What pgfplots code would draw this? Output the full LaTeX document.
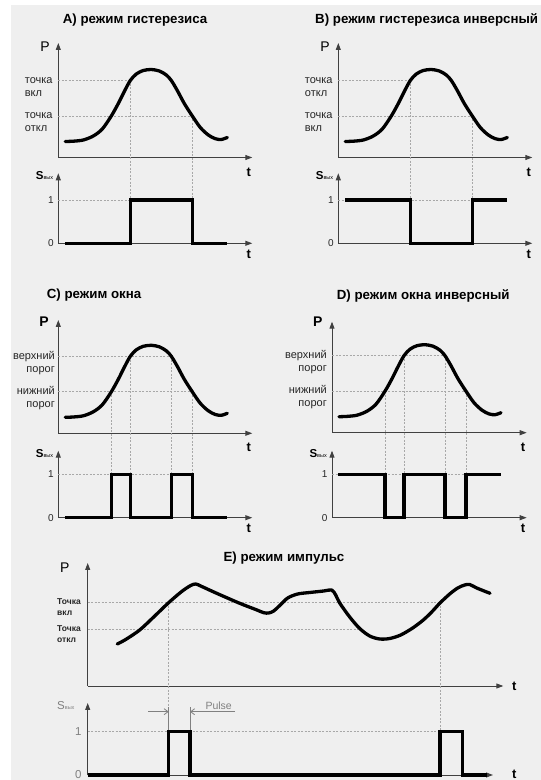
\documentclass[border=0pt]{standalone}
\usepackage{pgfplots}
\pgfplotsset{compat=1.18}
\usetikzlibrary{arrows.meta}
\usepackage{fontspec}
\setmainfont{Liberation Sans}

\definecolor{bg}{HTML}{EFEFEF}
\definecolor{axc}{HTML}{404040}
\definecolor{grd}{HTML}{A8A8A8}
\definecolor{txt}{HTML}{262626}
\definecolor{dim}{HTML}{808080}

\newcommand{\lbl}[2]{\begin{tabular}[t]{@{}l@{}}#1\\#2\end{tabular}}
\newcommand{\lbr}[2]{\begin{tabular}[t]{@{}r@{}}#1\\#2\end{tabular}}
\newcommand{\Sout}{{\fontsize{11.5}{12}\selectfont\bfseries S}{\fontsize{5.5}{6}\selectfont вых}}
\newcommand{\ttl}{\fontsize{13.3}{14}\selectfont\bfseries}

% bell-shaped P(t), same in panels A-D (local px)
\pgfplotstableread{
t P
7 16
15 16.3
25 17.5
35 21.5
44 28.5
53 41.5
60 54
66 66
72 77
78 83.5
85 87
93 88
101 86.5
108 82.5
113 77
119 67
126 54
134 41.5
142 30
150 22.5
157 18.8
163 18
169 20
}\bell

% P(t) of panel E
\pgfplotstableread{
t P
29.6 42
38 46.5
52 56
66 69
80.6 83
94 94.5
103 100.5
108 102
113 100
129 92.7
152 82.7
168 76.5
176 73.3
181 73
186 75
192 80.5
200 88
210 92
222 93.5
236 95
244 96
248 91
252 83
262 69
272 57.5
282 50
292 47
302 47.5
313 51
325 58
335.6 66
344 74
352.3 83
362 92
370 98
377 101
382 101.5
389 98
402.3 92.7
}\pulsecurve

\pgfplotsset{
  panel/.style={x=1pt, y=1pt, anchor=south west, xmin=0, ymin=0,
    enlargelimits=false, clip=false, axis lines=left,
    axis line style={draw=axc, line width=0.9pt, -{Triangle[length=7pt,width=5pt]}},
    xtick=\empty, major tick length=0pt, tick style={draw=none},
    yticklabel style={anchor=base east, inner sep=0pt, text=txt}},
  sig/.style={black, line width=3.3pt, no marks, line join=round, line cap=round},
  sw/.style={black, line width=3.2pt, no marks, sharp plot, line join=miter},
  gl/.style={grd, line width=0.6pt, dash pattern=on 2pt off 1.5pt, no marks, forget plot},
  pfont/.style={yticklabel style={font=\fontsize{11}{13}\selectfont, xshift=-5.5pt, yshift=-2.8pt}},
  sfont/.style={ytick={0,43.3}, yticklabels={0,1},
    yticklabel style={font=\fontsize{10}{10}\selectfont, xshift=-4.3pt, yshift=-3.5pt}},
}

\begin{document}
\begin{tikzpicture}[x=1pt,y=1pt]
\useasboundingbox (0,0) rectangle (541,780);
\clip (0,0) rectangle (541,780);
\fill[white] (0,0) rectangle (541,780);
\fill[bg] (11,0) rectangle (541,775);

% ---------- A ----------
\begin{axis}[panel, pfont, at={(58.3pt,622.5pt)}, xmax=194, ymax=114.5,
  ytick={41.5,77}, yticklabels={\lbl{точка}{откл},\lbl{точка}{вкл}}]
  \addplot[gl] coordinates {(0,77)(72,77)};
  \addplot[gl] coordinates {(0,41.5)(134,41.5)};
  \addplot[gl] coordinates {(72,77)(72,-42.5)};
  \addplot[gl] coordinates {(134,41.5)(134,-42.5)};
  \addplot[sig, smooth] table[x=t,y=P]{\bell};
  \node[anchor=base east, font=\fontsize{14}{14}\selectfont] at (axis cs:-5,105.8) {P};
  \node[anchor=base, font=\fontsize{13}{13}\selectfont\bfseries] at (axis cs:190.4,-19.2) {t};
\end{axis}
\begin{axis}[panel, sfont, at={(58.3pt,536.7pt)}, xmax=194, ymax=70]
  \addplot[gl] coordinates {(0,43.3)(134,43.3)};
  \addplot[sw] coordinates {(7,0)(72,0)(72,43.3)(134,43.3)(134,0)(169,0)};
  \node[anchor=base east] at (axis cs:-1.6,63.3) {\Sout};
  \node[anchor=base, font=\fontsize{13}{13}\selectfont\bfseries] at (axis cs:190.4,-15) {t};
\end{axis}

% ---------- B ----------
\begin{axis}[panel, pfont, at={(338.3pt,622.5pt)}, xmax=194, ymax=114.5,
  ytick={41.5,77}, yticklabels={\lbl{точка}{вкл},\lbl{точка}{откл}}]
  \addplot[gl] coordinates {(0,77)(72,77)};
  \addplot[gl] coordinates {(0,41.5)(134,41.5)};
  \addplot[gl] coordinates {(72,77)(72,-42.5)};
  \addplot[gl] coordinates {(134,41.5)(134,-42.5)};
  \addplot[sig, smooth] table[x=t,y=P]{\bell};
  \node[anchor=base east, font=\fontsize{14}{14}\selectfont] at (axis cs:-5,105.8) {P};
  \node[anchor=base, font=\fontsize{13}{13}\selectfont\bfseries] at (axis cs:190.4,-19.2) {t};
\end{axis}
\begin{axis}[panel, sfont, at={(338.3pt,536.7pt)}, xmax=194, ymax=70]
  \addplot[gl] coordinates {(0,43.3)(134,43.3)};
  \addplot[sw] coordinates {(7,43.3)(72,43.3)(72,0)(134,0)(134,43.3)(169,43.3)};
  \node[anchor=base east] at (axis cs:-1.6,63.3) {\Sout};
  \node[anchor=base, font=\fontsize{13}{13}\selectfont\bfseries] at (axis cs:190.4,-15) {t};
\end{axis}

% ---------- C ----------
\begin{axis}[panel, pfont, at={(58.3pt,346.7pt)}, xmax=194, ymax=113.3,
  ytick={41.5,77}, yticklabels={\lbr{нижний}{порог},\lbr{верхний}{порог}},
  yticklabel style={xshift=2.2pt}]
  \addplot[gl] coordinates {(0,77)(113,77)};
  \addplot[gl] coordinates {(0,41.5)(134,41.5)};
  \addplot[gl] coordinates {(53,41.5)(53,-41)};
  \addplot[gl] coordinates {(72,77)(72,-41)};
  \addplot[gl] coordinates {(113,77)(113,-41)};
  \addplot[gl] coordinates {(134,41.5)(134,-41)};
  \addplot[sig, smooth] table[x=t,y=P]{\bell};
  \node[anchor=base east, font=\fontsize{14}{14}\selectfont\bfseries] at (axis cs:-6,107) {P};
  \node[anchor=base, font=\fontsize{13}{13}\selectfont\bfseries] at (axis cs:190.4,-18.4) {t};
\end{axis}
\begin{axis}[panel, sfont, at={(58.3pt,262.3pt)}, xmax=194, ymax=67]
  \addplot[gl] coordinates {(0,43.3)(134,43.3)};
  \addplot[sw] coordinates {(7,0)(53,0)(53,43.3)(72,43.3)(72,0)(113,0)(113,43.3)(134,43.3)(134,0)(169,0)};
  \node[anchor=base east] at (axis cs:-1.6,60.5) {\Sout};
  \node[anchor=base, font=\fontsize{13}{13}\selectfont\bfseries] at (axis cs:190.4,-15) {t};
\end{axis}

% ---------- D ----------
\begin{axis}[panel, pfont, at={(332pt,347.3pt)}, xmax=194.7, ymax=111,
  ytick={41.5,77}, yticklabels={\lbr{нижний}{порог},\lbr{верхний}{порог}},
  yticklabel style={xshift=0.5pt}]
  \addplot[gl] coordinates {(0,77)(113,77)};
  \addplot[gl] coordinates {(0,41.5)(134,41.5)};
  \addplot[gl] coordinates {(53,41.5)(53,-41.6)};
  \addplot[gl] coordinates {(72,77)(72,-41.6)};
  \addplot[gl] coordinates {(113,77)(113,-41.6)};
  \addplot[gl] coordinates {(134,41.5)(134,-41.6)};
  \addplot[sig, smooth] table[x=t,y=P]{\bell};
  \node[anchor=base east, font=\fontsize{14}{14}\selectfont\bfseries] at (axis cs:-6,106) {P};
  \node[anchor=base, font=\fontsize{13}{13}\selectfont\bfseries] at (axis cs:191,-18.4) {t};
\end{axis}
\begin{axis}[panel, sfont, at={(332pt,262.3pt)}, xmax=194.7, ymax=67]
  \addplot[gl] coordinates {(0,43.3)(134,43.3)};
  \addplot[sw] coordinates {(6,43.3)(53,43.3)(53,0)(72,0)(72,43.3)(113,43.3)(113,0)(134,0)(134,43.3)(169,43.3)};
  \node[anchor=base east] at (axis cs:-1.6,60.5) {\Sout};
  \node[anchor=base, font=\fontsize{13}{13}\selectfont\bfseries] at (axis cs:191,-15) {t};
\end{axis}

% ---------- E ----------
\begin{axis}[panel, at={(87.7pt,94pt)}, xmax=415.6, ymax=123,
  ytick={56.7,83.7}, yticklabels={\lbl{Точка}{откл},\lbl{Точка}{вкл}},
  yticklabel style={font=\fontsize{8.5}{11}\selectfont\bfseries, xshift=-6.7pt, yshift=-2.7pt}]
  \addplot[gl] coordinates {(0,83.7)(352.3,83.7)};
  \addplot[gl] coordinates {(0,56.7)(270,56.7)};
  \addplot[gl] coordinates {(80.6,83.7)(80.6,-45.7)};
  \addplot[gl] coordinates {(352.3,83.7)(352.3,-45.7)};
  \addplot[sig, smooth] table[x=t,y=P]{\pulsecurve};
  \node[anchor=base east, font=\fontsize{14}{14}\selectfont] at (axis cs:-14.7,113) {P};
  \node[anchor=west, font=\fontsize{13}{13}\selectfont\bfseries] at (axis cs:421,0) {t};
\end{axis}
\begin{axis}[panel, at={(87.7pt,5pt)}, xmax=405.3, ymax=72,
  ytick={0,43.3}, yticklabels={0,1},
  yticklabel style={font=\fontsize{11.5}{12}\selectfont, text=dim, xshift=-6pt, yshift=-3.8pt}]
  \addplot[gl] coordinates {(0,43.3)(352.3,43.3)};
  \addplot[dim, line width=0.8pt, no marks, forget plot] coordinates {(81,43.3)(81,68.3)};
  \addplot[dim, line width=0.8pt, no marks, forget plot] coordinates {(102.3,43.3)(102.3,68.3)};
  \addplot[dim, line width=0.8pt, no marks, forget plot, -{Straight Barb[length=4pt,width=6pt]}] coordinates {(60.3,63.3)(81,63.3)};
  \addplot[dim, line width=0.8pt, no marks, forget plot, -{Straight Barb[length=4pt,width=6pt]}] coordinates {(147.3,63.3)(102.3,63.3)};
  \addplot[sw] coordinates {(0,0)(81,0)(81,43.3)(102.3,43.3)(102.3,0)(352.3,0)(352.3,43.3)(374.6,43.3)(374.6,0)(399,0)};
  \node[anchor=base west, font=\fontsize{10.5}{11}\selectfont, text=dim] at (axis cs:114.3,65.7) {Pulse};
  \node[anchor=base east, text=dim] at (axis cs:-9.7,65.7) {{\fontsize{11.5}{12}\selectfont S}{\fontsize{5.5}{6}\selectfont вых}};
  \node[anchor=base west, font=\fontsize{13}{13}\selectfont\bfseries] at (axis cs:421,-3.5) {t};
\end{axis}

% ---------- titles ----------
\node[anchor=base west, font=\ttl] at (59.3,756.7) {A) режим гистерезиса};
\node[anchor=base west, font=\ttl] at (311.7,756.7) {B) режим гистерезиса инверсный};
\node[anchor=base west, font=\ttl] at (43.3,481.7) {C) режим окна};
\node[anchor=base west, font=\ttl] at (333.3,480.7) {D) режим окна инверсный};
\node[anchor=base west, font=\ttl] at (220,218.3) {E) режим импульс};
\end{tikzpicture}
\end{document}
